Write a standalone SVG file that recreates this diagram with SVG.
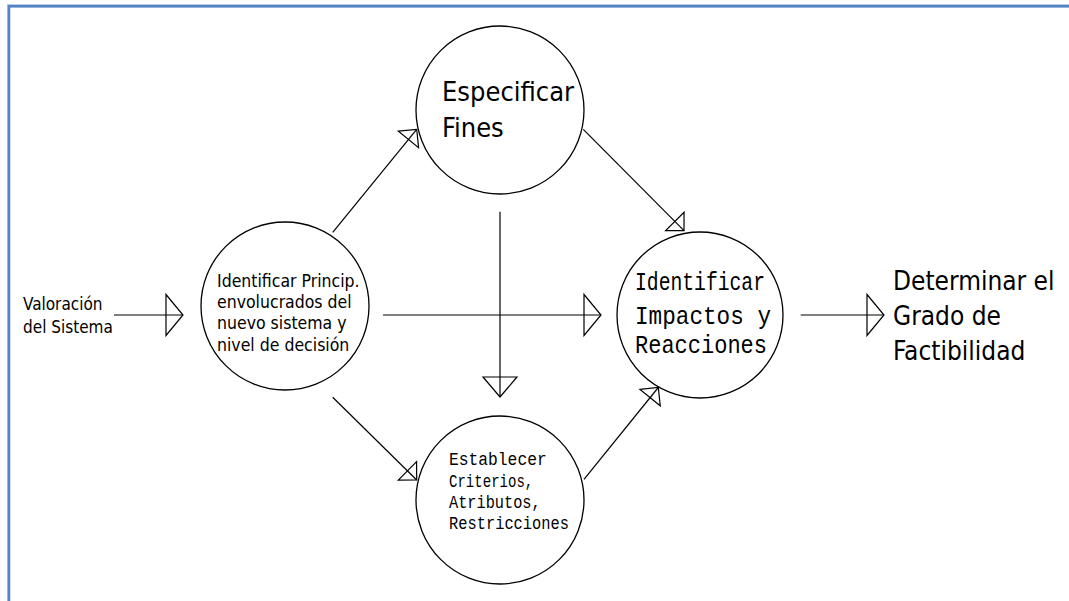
<svg xmlns="http://www.w3.org/2000/svg" width="1069" height="601" viewBox="0 0 1069 601">
<defs>
<style>
.node{fill:#fff;stroke:#000;stroke-width:1.3}
.conn line{stroke:#000;stroke-width:1.2;fill:none}
.tah{font-family:"DejaVu Sans Condensed","DejaVu Sans",sans-serif;fill:#000}
.cad{font-family:"Liberation Mono","DejaVu Sans Mono",monospace;fill:#000}
</style>
<marker id="ah" markerUnits="userSpaceOnUse" orient="auto" markerWidth="40" markerHeight="50" refX="0" refY="0" viewBox="-20 -25 40 50" overflow="visible">
<path d="M-17,-20.5 L0,0 L-17,20.5 Z" fill="none" stroke="#000" stroke-width="1.2"/>
</marker>
<marker id="av" markerUnits="userSpaceOnUse" orient="auto" markerWidth="40" markerHeight="50" refX="0" refY="0" viewBox="-20 -25 40 50" overflow="visible">
<path d="M-20,-17 L0,0 L-20,17 Z" fill="none" stroke="#000" stroke-width="1.2"/>
</marker>
<marker id="ad" markerUnits="userSpaceOnUse" orient="auto" markerWidth="40" markerHeight="50" refX="0" refY="0" viewBox="-20 -25 40 50" overflow="visible">
<path d="M-13,-13 L0,0 L-13,13 Z" fill="none" stroke="#000" stroke-width="1.2"/>
</marker>
</defs>
<rect width="1069" height="601" fill="#fff"/>
<g id="frame">
<rect x="7.5" y="4.5" width="1100" height="650" fill="none" stroke="#b9cde6" stroke-width="1"/>
<rect x="9" y="6.3" width="1100" height="650" fill="none" stroke="#5584c4" stroke-width="2.6"/>
</g>
<g id="connectors" class="conn">
<line x1="114" y1="315" x2="183" y2="315" marker-end="url(#ah)"/>
<line x1="332.7" y1="232.3" x2="416.7" y2="129.3" marker-end="url(#ad)"/>
<line x1="332.7" y1="397.3" x2="416.7" y2="480" marker-end="url(#ad)"/>
<line x1="383" y1="315" x2="601" y2="315" marker-end="url(#ah)"/>
<line x1="500" y1="211.7" x2="500" y2="397" marker-end="url(#av)"/>
<line x1="583.3" y1="129.3" x2="684" y2="230.7" marker-end="url(#ad)"/>
<line x1="584" y1="479.3" x2="658.3" y2="387.5" marker-end="url(#ad)"/>
<line x1="800.7" y1="315" x2="884" y2="315" marker-end="url(#ah)"/>
</g>
<g id="valoracion">
<text class="tah" font-size="17"><tspan x="23" y="310">Valoración</tspan><tspan x="23" y="333">del Sistema</tspan></text>
</g>
<g id="identificar-princip">
<circle class="node" cx="285" cy="306" r="84"/>
<text class="tah" font-size="17.5"><tspan x="217" y="286.7">Identificar Princip.</tspan><tspan x="217" y="308.2">envolucrados del</tspan><tspan x="217" y="329.4">nuevo sistema y</tspan><tspan x="217" y="350.6">nivel de decisión</tspan></text>
</g>
<g id="especificar-fines">
<circle class="node" cx="500" cy="110" r="84"/>
<text class="tah" font-size="27"><tspan x="442" y="100.7">Especificar</tspan><tspan x="442" y="137">Fines</tspan></text>
</g>
<g id="establecer-criterios">
<circle class="node" cx="500" cy="500" r="84"/>
<text class="cad" font-size="17.5" lengthAdjust="spacingAndGlyphs"><tspan x="449" y="465" textLength="97.7" lengthAdjust="spacingAndGlyphs">Establecer</tspan><tspan x="449" y="486.7" textLength="84.3" lengthAdjust="spacingAndGlyphs">Criterios,</tspan><tspan x="449" y="508" textLength="91.7" lengthAdjust="spacingAndGlyphs">Atributos,</tspan><tspan x="449" y="529" textLength="120" lengthAdjust="spacingAndGlyphs">Restricciones</tspan></text>
</g>
<g id="identificar-impactos">
<circle class="node" cx="700" cy="315" r="83"/>
<text class="cad" font-size="25"><tspan x="635" y="290" textLength="130" lengthAdjust="spacingAndGlyphs">Identificar</tspan><tspan x="635" y="324.3" textLength="136" lengthAdjust="spacingAndGlyphs">Impactos y</tspan><tspan x="635" y="352.7" textLength="132" lengthAdjust="spacingAndGlyphs">Reacciones</tspan></text>
</g>
<g id="determinar">
<text class="tah" font-size="26"><tspan x="893" y="290">Determinar el</tspan><tspan x="893" y="324.5">Grado de</tspan><tspan x="893" y="360">Factibilidad</tspan></text>
</g>
</svg>
